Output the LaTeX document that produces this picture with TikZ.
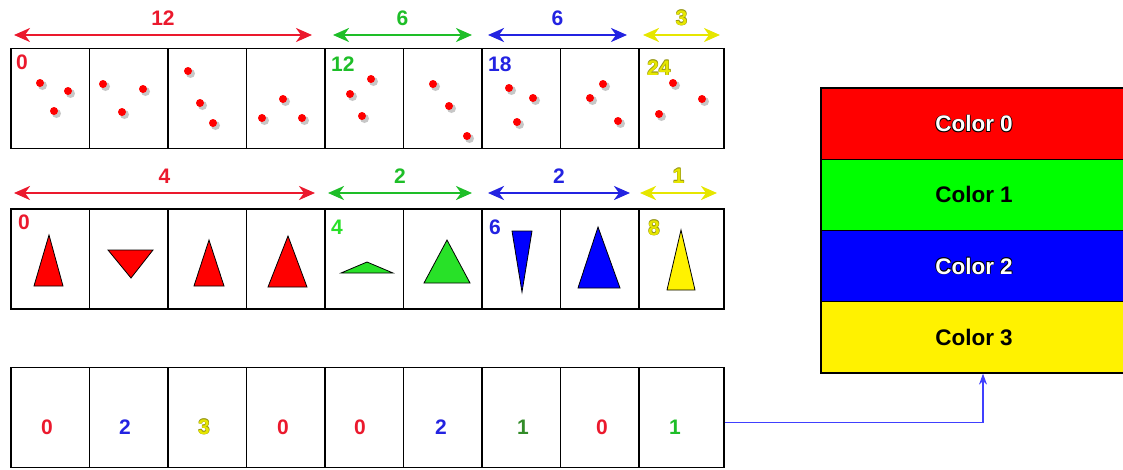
\documentclass[tikz,border=0pt]{standalone}
\usepackage{fontspec}
\setmainfont{Liberation Sans}
\usetikzlibrary{arrows.meta}
\definecolor{kred}{RGB}{235,25,45}
\definecolor{kgreen}{RGB}{30,190,40}
\definecolor{klime}{RGB}{40,225,40}
\definecolor{kleaf}{RGB}{50,140,40}
\definecolor{kblue}{RGB}{35,35,225}
\definecolor{kyellow}{RGB}{230,230,0}
\definecolor{kolive}{RGB}{150,150,20}
\newcommand\ringtext[4][.6pt]{%
  \rlap{\kern-#1\raisebox{#1}{\textcolor{#2}{#4}}}%
  \rlap{\kern#1\raisebox{#1}{\textcolor{#2}{#4}}}%
  \rlap{\kern-#1\raisebox{-#1}{\textcolor{#2}{#4}}}%
  \rlap{\kern#1\raisebox{-#1}{\textcolor{#2}{#4}}}%
  \textcolor{#3}{#4}}
\newcommand\ylw[1]{\ringtext[.4pt]{kolive}{kyellow}{#1}}
\tikzset{
  rowbox/.style={draw, line width=1.2pt, minimum width=713pt, minimum height=100pt, inner sep=0pt},
  divider/.style={line width=1.2pt},
  dimarrow/.style={{Stealth[length=16pt,width=14pt,inset=5pt]}-{Stealth[length=16pt,width=14pt,inset=5pt]}, line width=2.6pt},
  cnt/.style={font=\fontsize{21}{24}\selectfont\bfseries, inner sep=0pt},
  startlbl/.style={cnt, anchor=north west},
  idxnum/.style={font=\fontsize{21}{24}\selectfont\bfseries, inner sep=0pt},
  dotshadow/.style={fill=black, opacity=0.22},
  tri/.style={draw=black, line width=0.8pt},
  band/.style={draw, line width=1.2pt, minimum width=306pt, minimum height=71.25pt, inner sep=0pt, font=\fontsize{22.5}{26}\selectfont\bfseries},
  link/.style={-{Stealth[length=11pt,width=8pt]}, draw=blue!75!white, line width=1.2pt},
}
\begin{document}
\begin{tikzpicture}[x=1pt,y=-1pt]
  \useasboundingbox (0,0) rectangle (1123,469);
  % the three rows of cells
  \node[rowbox] (pts) at (367.5,98.5) {};
  \node[rowbox] (shp) at (367.5,259) {};
  \node[rowbox] (idx) at (367.5,417.5) {};
  \foreach \x in {89.5,168,246.5,325,403.5,482,560.5,639}
    \draw[divider] (\x,48) -- (\x,149) (\x,209) -- (\x,309) (\x,368) -- (\x,467);
  % counts above the rows
  \foreach \a/\b/\n/\c [count=\i] in {14/312/12/kred, 333/472/6/kgreen, 488/627/6/kblue, 643/720/\ylw{3}/kyellow}
    \draw[dimarrow, \c] (\a,35) -- (\b,35) node[cnt, midway, yshift=17pt, text=\c] (w\i) {\n};
  \foreach \a/\b/\n/\c [count=\i] in {14/315/4/kred, 328/472/2/kgreen, 488/630/2/kblue, 640/717/\ylw{1}/kyellow}
    \draw[dimarrow, \c] (\a,193) -- (\b,193) node[cnt, midway, yshift=17pt, text=\c] (t\i) {\n};
  % first index of each group
  \node[startlbl, text=kred] (p0) at (16,55) {0};
  \node[startlbl, text=kgreen] (p12) at (331,57) {12};
  \node[startlbl, text=kblue] (p18) at (488,57) {18};
  \node[startlbl] (p24) at (647,60) {\ylw{24}};
  \node[startlbl, text=kred] (s0) at (18,215) {0};
  \node[startlbl, text=klime] (s4) at (331,220) {4};
  \node[startlbl, text=kblue] (s6) at (489,220) {6};
  \node[startlbl] (s8) at (648,220) {\ylw{8}};
  % points
  \foreach \x/\y in {40/83, 68/91, 54/111, 103/84, 143/89, 122/112, 188/71, 200/103, 213/123,
      262/118, 283/99, 302/118, 371/79, 350/94, 362/116, 433/84, 449/106, 467/136,
      509/88, 533/98, 517/122, 603/84, 590/98, 618/121, 673/83, 702/99, 659/114} {
    \fill[dotshadow] (\x+2.5,\y+2.5) circle (4.5);
    \fill[red] (\x,\y) circle (4);
  }
  % triangles
  \foreach \ax/\ay/\bx/\by/\cx/\cy/\c in {34/286/49/235/63/286/red, 108/250/153/250/131/278/red,
      194/286/209/240/224/286/red, 268/287/288/236/307/287/red, 341/273/367/262/393/273/klime,
      424/283/447/240/470/283/klime, 512/231/532/231/522/292/blue, 578/288/598/227/620/288/blue,
      667/290/681/230/695/290/yellow}
    \filldraw[tri, fill=\c] (\ax,\ay) -- (\bx,\by) -- (\cx,\cy) -- cycle;
  % colour indices
  \foreach \x/\v/\c [count=\i] in {47/0/kred, 125/2/kblue, 204/\ylw{3}/kyellow, 283/0/kred, 360/0/kred,
      441/2/kblue, 523/1/kleaf, 602/0/kred, 675/1/kgreen}
    \node[idxnum, text=\c] (v\i) at (\x,427) {\v};
  % palette
  \node[band, fill=red] (pal0) at (974,123.6) {\ringtext{black}{white}{Color 0}};
  \node[band, fill=green] (pal1) at (974,194.9) {Color 1};
  \node[band, fill=blue] (pal2) at (974,266.1) {\ringtext{black}{white}{Color 2}};
  \node[band, fill=yellow] (pal3) at (974,337.4) {Color 3};
  \draw[link] ([yshift=-5pt]idx.east) -| ([xshift=9pt]pal3.south);
\end{tikzpicture}
\end{document}
